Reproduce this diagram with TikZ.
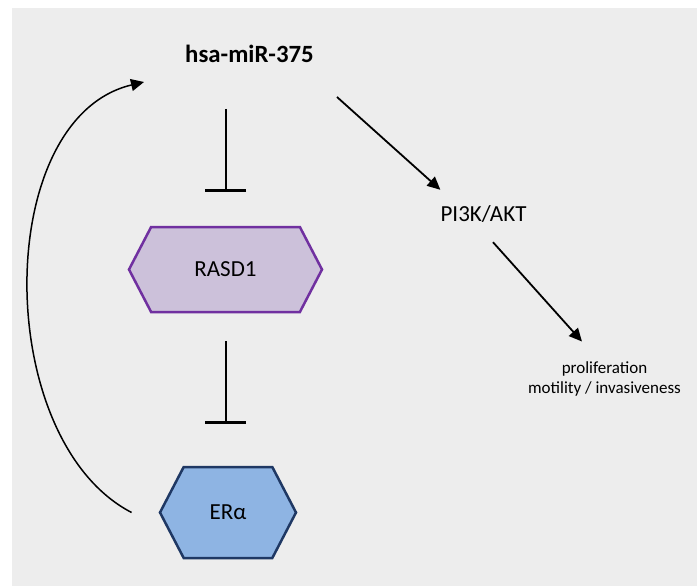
\documentclass[tikz,border=0pt]{standalone}
\usepackage{fontspec}
\setmainfont{Carlito}
\usetikzlibrary{shapes.symbols,arrows.meta}
\definecolor{bggray}{RGB}{237,237,237}
\definecolor{rasdfill}{RGB}{204,193,218}
\definecolor{rasdline}{RGB}{112,48,160}
\definecolor{erfill}{RGB}{142,180,227}
\definecolor{erline}{RGB}{31,56,100}

\begin{document}
\begin{tikzpicture}[x=1pt,y=-1pt,
  hexnode/.style={signal,signal to=east and west,signal pointer angle=125,draw,line width=2.5pt,inner sep=0pt,font=\fontsize{23}{27}\selectfont},
  inhib/.style={line width=2pt,-{Bar[width=41pt,line width=2.5pt]}},
  act/.style={line width=1.8pt,-{Triangle[length=13pt,width=12pt]}}]
\useasboundingbox (0,0) rectangle (697,586);
\fill[bggray] (12,8) rectangle (697,586);

\node [inner sep=0pt,font=\fontsize{24.8}{29}\selectfont\bfseries] (mir) at (249.5,54) {hsa-miR-375};
\node [hexnode,fill=rasdfill,draw=rasdline,minimum width=193pt,minimum height=85pt] (rasd) at (225.5,269.5) {RASD1};
\node [hexnode,fill=erfill,draw=erline,minimum width=136pt,minimum height=91pt] (era) at (228,512.5) {ERα};
\node [inner sep=0pt,text height=16pt,text depth=0pt,font=\fontsize{23}{27}\selectfont] (pi3k) at (483.5,213) {PI3K/AKT};
\node [inner sep=0pt,align=center,font=\fontsize{17}{20}\selectfont] (prolif) at (604.5,379) {proliferation\\motility / invasiveness};

\draw[inhib,shorten <=46pt,shorten >=34pt] (rasd.north |- mir.south) -- (rasd.north);
\draw[inhib,shorten <=28pt,shorten >=42pt] (rasd.south) -- (rasd.south |- era.north);
\draw[act] ([xshift=23pt,yshift=-43pt]mir.east) -- ([yshift=15pt]pi3k.north west);
\draw[act] ([xshift=9.5pt,yshift=-21pt]pi3k.south) -- ([xshift=-22.5pt,yshift=20pt]prolif.north);
\draw[act,line width=1.5pt] ([xshift=-27pt]era.west) .. controls (-8,440) and (-8,118) .. ([xshift=-41pt,yshift=-28pt]mir.west);
\end{tikzpicture}
\end{document}
